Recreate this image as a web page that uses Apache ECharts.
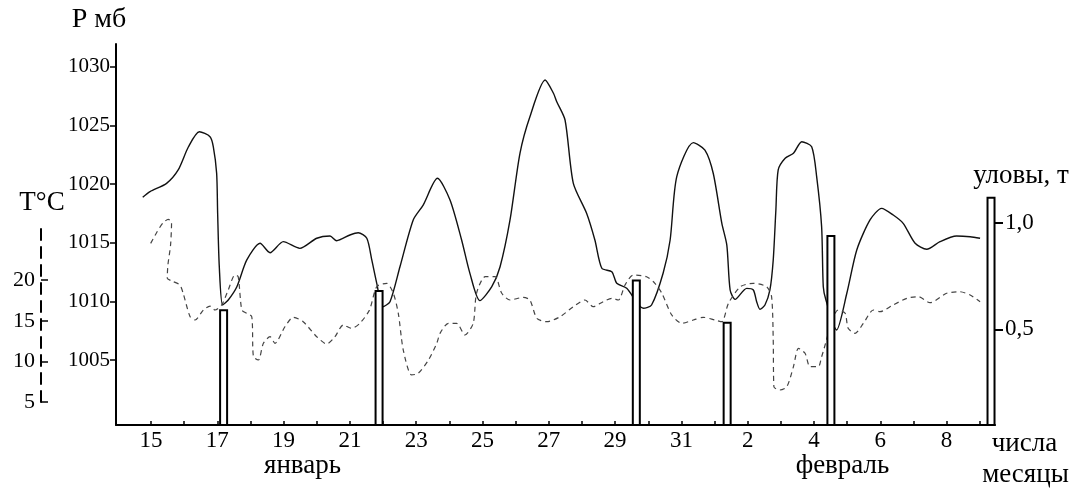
<!DOCTYPE html>
<html><head><meta charset="utf-8">
<script src="https://cdn.jsdelivr.net/npm/echarts@6/dist/echarts.min.js"></script>
<style>html,body{margin:0;padding:0;background:#fff}#c{width:1074px;height:491px}</style>
</head><body><div id="c"></div>
<script>
// x = day index: 0 = 15 January, 16 = 31 January, 17 = 1 February ...
const dayTicks = [0,1,2,3,4,5,6,7,8,9,10,11,12,13,14,15,16,17,18,19,20,21,22,23,24,25];
const dayLabels = [0,2,4,6,8,10,12,14,16,18,20,22,24];
const pressureTicks = [1005,1010,1015,1020,1025,1030];
const tempTicks = [5,10,15,20];
const catchTicks = [0.5,1.0];

// atmospheric pressure, mb
const pressure = [[-0.25,1018.87],[-0.03,1019.35],[0.47,1020.06],[0.82,1021.20],[1.13,1023.18],[1.46,1024.46],[1.78,1024.04],[1.88,1023.18],[1.98,1020.92],[2.01,1017.53],[2.06,1012.95],[2.16,1009.69],[2.33,1010.12],[2.59,1011.25],[2.89,1013.53],[3.29,1014.95],[3.59,1014.15],[3.99,1015.09],[4.49,1014.52],[5.00,1015.38],[5.40,1015.57],[5.60,1015.17],[6.00,1015.66],[6.25,1015.85],[6.51,1015.38],[6.66,1013.53],[6.81,1011.54],[6.99,1009.54],[7.21,1009.97],[7.51,1012.95],[7.91,1016.94],[8.21,1018.21],[8.64,1020.49],[9.02,1018.64],[9.37,1015.23],[9.62,1012.39],[9.92,1010.06],[10.28,1011.25],[10.53,1012.95],[10.83,1016.94],[11.13,1022.62],[11.43,1025.74],[11.89,1028.87],[12.14,1027.74],[12.24,1027.02],[12.49,1025.46],[12.74,1020.06],[13.14,1017.51],[13.39,1015.23],[13.60,1012.82],[13.90,1012.53],[14.05,1011.54],[14.35,1011.11],[14.85,1009.41],[15.10,1009.69],[15.45,1012.42],[15.66,1015.23],[15.86,1020.63],[16.36,1023.53],[16.71,1022.90],[16.96,1020.92],[17.22,1016.65],[17.37,1014.80],[17.47,1010.97],[17.62,1010.17],[17.97,1011.11],[18.17,1010.97],[18.27,1009.97],[18.37,1009.32],[18.52,1009.69],[18.67,1010.97],[18.77,1013.53],[18.85,1017.79],[18.92,1021.20],[19.13,1022.20],[19.38,1022.62],[19.63,1023.61],[19.93,1023.18],[20.08,1020.63],[20.23,1016.36],[20.28,1011.25],[20.36,1010.12],[20.68,1007.56],[20.99,1010.69],[21.29,1014.38],[21.69,1016.94],[22.04,1017.93],[22.39,1017.36],[22.69,1016.65],[23.05,1014.95],[23.40,1014.44],[23.80,1015.09],[24.30,1015.57],[24.71,1015.51],[25.01,1015.38]];

// temperature, °C
const temperature = [[-0.01,24.54],[0.18,25.94],[0.36,27.04],[0.52,27.50],[0.62,27.17],[0.59,24.33],[0.51,21.87],[0.49,20.23],[0.63,19.90],[0.87,19.41],[0.97,18.39],[1.18,15.50],[1.33,15.10],[1.58,16.33],[1.78,16.82],[1.93,16.33],[2.13,16.95],[2.33,18.79],[2.53,20.64],[2.63,20.43],[2.74,16.33],[2.89,15.92],[3.04,15.50],[3.09,10.58],[3.24,10.17],[3.39,12.23],[3.59,13.04],[3.74,12.23],[4.04,14.27],[4.29,15.43],[4.59,14.89],[5.00,13.04],[5.30,12.14],[5.55,13.04],[5.80,14.48],[6.05,14.08],[6.30,14.69],[6.59,16.33],[6.81,19.20],[7.11,19.62],[7.31,18.39],[7.46,15.92],[7.61,11.40],[7.86,8.33],[8.06,8.53],[8.37,10.17],[8.62,12.23],[8.72,13.46],[8.97,14.69],[9.22,14.69],[9.47,13.25],[9.72,14.69],[9.82,18.39],[10.08,20.43],[10.38,20.43],[10.58,18.39],[10.83,17.56],[11.23,17.89],[11.43,17.56],[11.64,15.31],[11.94,14.89],[12.34,15.50],[12.74,16.74],[13.09,17.56],[13.34,16.74],[13.64,17.35],[13.90,17.77],[14.10,17.56],[14.30,19.41],[14.55,20.64],[14.95,20.43],[15.20,19.62],[15.41,18.39],[15.71,15.71],[16.01,14.69],[16.36,15.10],[16.66,15.43],[17.01,15.10],[17.22,14.89],[17.42,17.16],[17.78,19.20],[18.17,19.62],[18.57,19.20],[18.72,17.97],[18.77,12.64],[18.79,6.88],[18.97,6.48],[19.18,6.88],[19.38,9.35],[19.53,11.61],[19.73,11.00],[19.88,9.35],[20.13,9.35],[20.23,10.58],[20.73,16.33],[20.94,15.92],[21.03,14.08],[21.24,13.46],[21.49,14.69],[21.79,16.33],[21.99,16.12],[22.39,16.95],[22.80,17.77],[23.15,17.97],[23.50,17.23],[24.00,18.39],[24.40,18.58],[24.71,18.18],[25.01,17.35]];

// catches, t
const catches = [[2.19,0.594],[6.88,0.684],[14.64,0.734],[17.38,0.536],[20.51,0.942],[25.34,1.122]];

function dayLabel(d){ return d <= 16 ? String(15 + d) : String(d - 16); }

const FONT = '"Liberation Serif","Times New Roman","DejaVu Serif",serif';
const chart = echarts.init(document.getElementById('c'), null, {renderer:'canvas'});

function txt(t, x, y, size){
  return {type:'text', x:x, y:y, z:10, style:{text:t, fill:'#000', font: size + 'px ' + FONT, align:'center', verticalAlign:'middle'}};
}

chart.setOption({
  animation:false,
  backgroundColor:'#fff',
  grid:[
    {left:116, right:79, top:44, bottom:66, containLabel:false, outerBoundsMode:'none'},
    {left:116, right:79, top:228, bottom:89, containLabel:false, outerBoundsMode:'none'}
  ],
  xAxis:[
    {type:'value', gridIndex:0, min:-1.056, max:25.46,
     axisLine:{show:true, onZero:false, lineStyle:{color:'#000', width:2}},
     axisTick:{show:true, inside:true, length:4, customValues:dayTicks, lineStyle:{color:'#000', width:1.5}},
     axisLabel:{show:true, customValues:dayLabels, formatter:function(v){return dayLabel(Math.round(v));}, margin:4,
       fontFamily:FONT, fontSize:23, lineHeight:23, color:'#000'},
     splitLine:{show:false}},
    {type:'value', gridIndex:1, min:-1.056, max:25.46, show:false}
  ],
  yAxis:[
    {type:'value', gridIndex:0, position:'left', min:999.46, max:1031.94,
     axisLine:{show:true, onZero:false, lineStyle:{color:'#000', width:2}},
     axisTick:{show:true, length:6, customValues:pressureTicks, lineStyle:{color:'#000', width:1.5}},
     axisLabel:{customValues:pressureTicks, formatter:function(v){return String(Math.round(v));}, margin:6, fontFamily:FONT, fontSize:21, color:'#000'},
     splitLine:{show:false}},
    {type:'value', gridIndex:0, position:'right', min:0.0514, max:1.8377,
     axisLine:{show:false, onZero:false},
     axisTick:{show:true, inside:false, length:8, customValues:catchTicks, lineStyle:{color:'#000', width:2}},
     axisLabel:{customValues:catchTicks, formatter:function(v){return v.toFixed(1).replace('.', ',');}, margin:10,
       fontFamily:FONT, fontSize:23, color:'#000'},
     splitLine:{show:false}},
    {type:'value', gridIndex:1, position:'left', offset:75, min:5, max:26.43,
     axisLine:{show:true, onZero:false, lineStyle:{color:'#000', width:2, type:[11,7]}},
     axisTick:{show:true, inside:true, length:7, customValues:tempTicks, lineStyle:{color:'#000', width:1.5}},
     axisLabel:{customValues:tempTicks, margin:6, fontFamily:FONT, fontSize:22, color:'#000'},
     splitLine:{show:false}}
  ],
  series:[
    {name:'P', type:'line', xAxisIndex:0, yAxisIndex:0, data:pressure, smooth:0.25, showSymbol:false, symbol:'none',
     lineStyle:{color:'#111', width:1.4}, z:2},
    {name:'T', type:'line', xAxisIndex:1, yAxisIndex:2, data:temperature, smooth:0.25, showSymbol:false, symbol:'none', clip:false,
     lineStyle:{color:'#444', width:1.2, type:[5,4]}, z:2},
    {name:'catch', type:'bar', xAxisIndex:0, yAxisIndex:1, data:catches, barWidth:9,
     itemStyle:{color:'#fff', borderColor:'#000', borderWidth:2}, z:4}
  ],
  graphic:[
    txt('P мб', 99, 20, 28),
    txt('T°C', 42, 203, 27),
    txt('уловы, т', 1021, 176, 27),
    txt('январь', 302.5, 465.5, 27),
    txt('февраль', 842.5, 466, 27),
    txt('числа', 1024.5, 443.5, 27),
    txt('месяцы', 1025.5, 475, 27)
  ]
});
</script>
</body></html>
